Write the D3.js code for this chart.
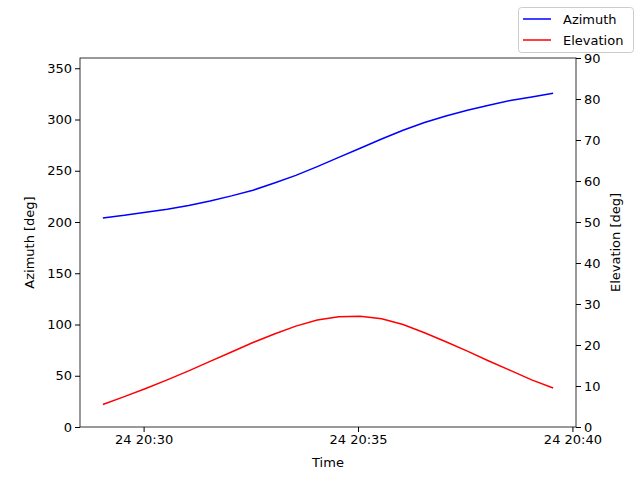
<!DOCTYPE html><html><head><script src="https://cdn.jsdelivr.net/npm/d3@7"></script>
<style>body{margin:0}text{font-family:"DejaVu Sans";}</style></head><body><svg id="c" width="640" height="480"></svg>
<script>
const startTime = "2024-01-24T20:29:03";
const stepSeconds = 30;
const azimuth = [204,206.5,209.5,212.5,216,220.5,225.5,231,238,245.5,254,263,272,281,289.5,297,303.5,309,314,318.5,322,325.5];
const elevation = [5.5,7.4,9.4,11.5,13.7,16,18.3,20.6,22.7,24.6,26.1,26.9,27,26.4,25,23,20.8,18.5,16.1,13.8,11.5,9.5];
const xTicks = ["2024-01-24T20:30:00","2024-01-24T20:35:00","2024-01-24T20:40:00"];
const t0 = new Date(startTime);
const times = azimuth.map((_,i)=>new Date(t0.getTime()+i*stepSeconds*1000));
const L=80,R=576,T=58,B=427,FS=13;
const svg=d3.select("#c");
const x=d3.scaleTime().domain([new Date("2024-01-24T20:28:31"),new Date("2024-01-24T20:40:05")]).range([L,R]);
const yl=d3.scaleLinear().domain([0,360]).range([B,T]);
const yr=d3.scaleLinear().domain([0,90]).range([B,T]);
const fmt=d3.timeFormat("%d %H:%M");
svg.append("g").attr("transform",`translate(0,${B})`).call(d3.axisBottom(x).tickValues(xTicks.map(d=>new Date(d))).tickFormat(fmt).tickSize(5).tickSizeOuter(0));
svg.append("g").attr("transform",`translate(${L},0)`).call(d3.axisLeft(yl).tickValues(d3.range(0,351,50)).tickSize(5).tickSizeOuter(0));
svg.append("g").attr("transform",`translate(${R},0)`).call(d3.axisRight(yr).tickValues(d3.range(0,91,10)).tickSize(5).tickSizeOuter(0));
svg.selectAll(".tick text").attr("font-size",FS).attr("fill","#000");
svg.selectAll(".domain").remove();
svg.append("rect").attr("x",L).attr("y",T).attr("width",R-L).attr("height",B-T).attr("fill","none").attr("stroke","#000").attr("stroke-width",0.8);
svg.append("path").attr("d",d3.line().x((d,i)=>x(times[i])).y(d=>yl(d))(azimuth)).attr("fill","none").attr("stroke","blue").attr("stroke-width",1.5);
svg.append("path").attr("d",d3.line().x((d,i)=>x(times[i])).y(d=>yr(d))(elevation)).attr("fill","none").attr("stroke","red").attr("stroke-width",1.5);
svg.append("text").attr("x",(L+R)/2).attr("y",467).attr("text-anchor","middle").attr("font-size",FS).text("Time");
svg.append("text").attr("transform",`translate(34,${(T+B)/2}) rotate(-90)`).attr("text-anchor","middle").attr("font-size",FS).text("Azimuth [deg]");
svg.append("text").attr("transform",`translate(620,${(T+B)/2}) rotate(-90)`).attr("text-anchor","middle").attr("font-size",FS).text("Elevation [deg]");
const lg=svg.append("g");
lg.append("rect").attr("x",518.5).attr("y",7.5).attr("width",115).attr("height",45).attr("rx",3).attr("fill","#fff").attr("stroke","#ccc");
[["Azimuth","blue",19],["Elevation","red",40]].forEach(([n,c,y])=>{
 lg.append("line").attr("x1",523).attr("x2",551).attr("y1",y).attr("y2",y).attr("stroke",c).attr("stroke-width",1.5);
 lg.append("text").attr("x",563).attr("y",y+4.5).attr("font-size",FS).text(n);
});
</script></body></html>
